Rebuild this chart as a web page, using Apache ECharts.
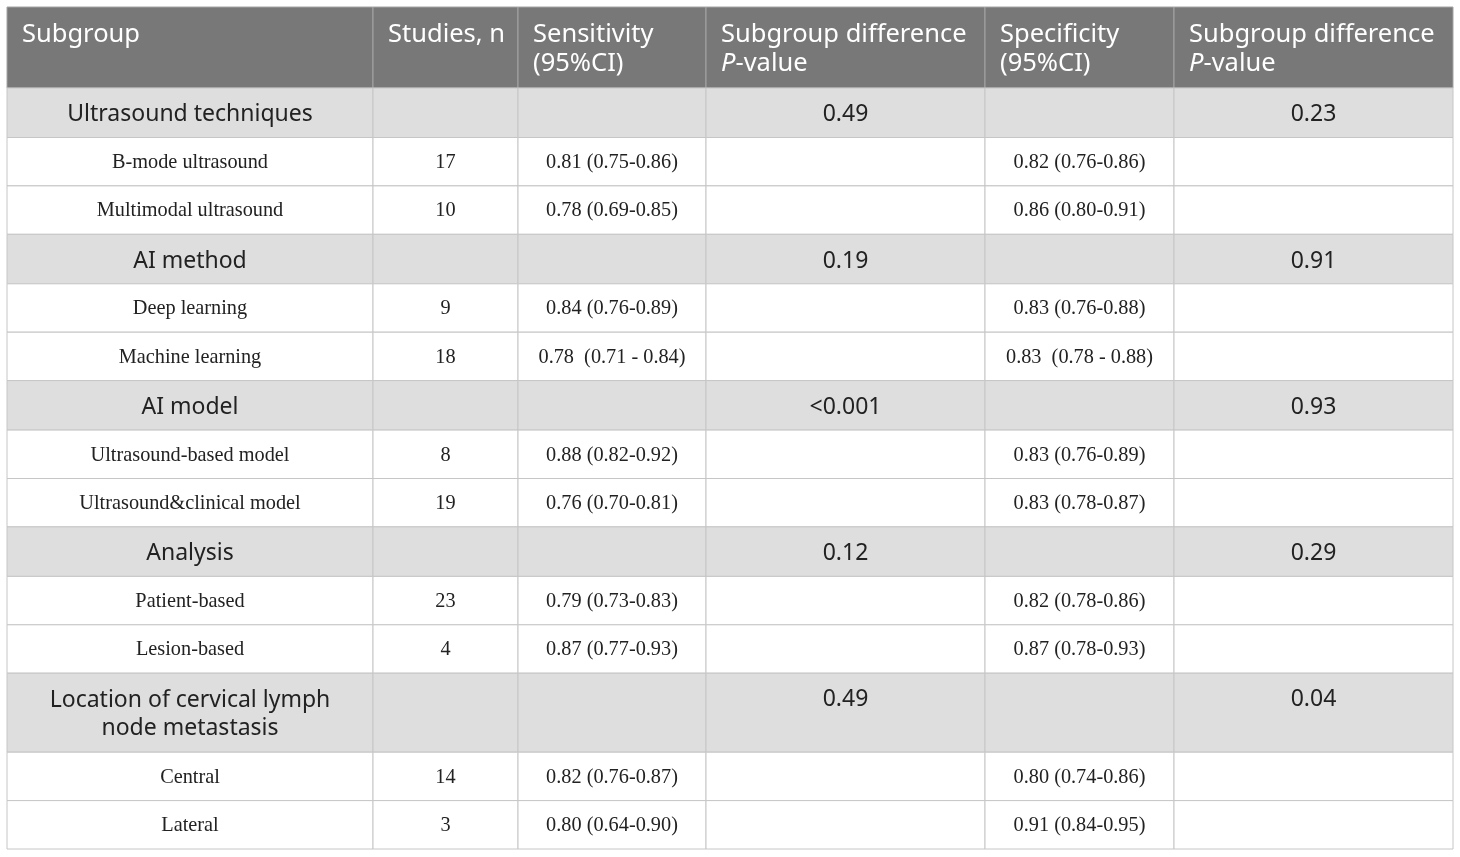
<!DOCTYPE html>
<html>
<head>
<meta charset="utf-8">
<script src="https://cdn.jsdelivr.net/npm/echarts@6/dist/echarts.min.js"></script>
<style>
html,body{margin:0;padding:0;background:#fff;}
#chart{width:1460px;height:857px;}
</style>
</head>
<body>
<div id="chart"></div>
<script>
// ---------- data ----------
const headers = ['Subgroup', 'Studies, n', 'Sensitivity\n(95%CI)', 'Subgroup difference\n{i|P}-value', 'Specificity\n(95%CI)', 'Subgroup difference\n{i|P}-value'];
const groups = ['Ultrasound techniques', 'AI method', 'AI model', 'Analysis', 'Location of cervical lymph\nnode metastasis'];
const groupSensP = ['0.49', '0.19', '<0.001', '0.12', '0.49'];
const groupSpecP = ['0.23', '0.91', '0.93', '0.29', '0.04'];
const subgroups = [
  ['B-mode ultrasound', 'Multimodal ultrasound'],
  ['Deep learning', 'Machine learning'],
  ['Ultrasound-based model', 'Ultrasound&clinical model'],
  ['Patient-based', 'Lesion-based'],
  ['Central', 'Lateral']
];
const studies = [[17, 10], [9, 18], [8, 19], [23, 4], [14, 3]];
const sensitivity = [
  ['0.81 (0.75-0.86)', '0.78 (0.69-0.85)'],
  ['0.84 (0.76-0.89)', '0.78  (0.71 - 0.84)'],
  ['0.88 (0.82-0.92)', '0.76 (0.70-0.81)'],
  ['0.79 (0.73-0.83)', '0.87 (0.77-0.93)'],
  ['0.82 (0.76-0.87)', '0.80 (0.64-0.90)']
];
const specificity = [
  ['0.82 (0.76-0.86)', '0.86 (0.80-0.91)'],
  ['0.83 (0.76-0.88)', '0.83  (0.78 - 0.88)'],
  ['0.83 (0.76-0.89)', '0.83 (0.78-0.87)'],
  ['0.82 (0.78-0.86)', '0.87 (0.78-0.93)'],
  ['0.80 (0.74-0.86)', '0.91 (0.84-0.95)']
];

// ---------- layout (not data) ----------
const LAYOUT = {
  colEdges: [0, 366, 511, 699, 978, 1167, 1446],
  headerH: 81, groupH: 49.5, groupH2: 79, subH: 48.4,
  width: 1446
};

// build rows: kind + cells
const rows = [];
rows.push({kind: 'header', cells: headers});
groups.forEach((g, gi) => {
  rows.push({kind: 'group', cells: [g, '', '', groupSensP[gi], '', groupSpecP[gi]]});
  subgroups[gi].forEach((s, si) => {
    rows.push({kind: 'sub', cells: [s, String(studies[gi][si]), sensitivity[gi][si], '', specificity[gi][si], '']});
  });
});
const rowEdges = [0];
rows.forEach(r => {
  let h = r.kind === 'header' ? LAYOUT.headerH : r.kind === 'sub' ? LAYOUT.subH :
    (r.cells[0].indexOf('\n') >= 0 ? LAYOUT.groupH2 : LAYOUT.groupH);
  rowEdges.push(rowEdges[rowEdges.length - 1] + h);
});
const totalH = rowEdges[rowEdges.length - 1];

const cellData = [];
rows.forEach((r, ri) => r.cells.forEach((c, ci) => cellData.push([ci, ri])));

const SANS = '"Noto Sans", "Open Sans", sans-serif';
const SERIF = '"Liberation Serif", "DejaVu Serif", serif';

function renderItem(params, api) {
  const ci = api.value(0), ri = api.value(1);
  const row = rows[ri];
  const p0 = api.coord([LAYOUT.colEdges[ci], rowEdges[ri]]);
  const p1 = api.coord([LAYOUT.colEdges[ci + 1], rowEdges[ri + 1]]);
  const x = p0[0], y = p0[1], w = p1[0] - p0[0], h = p1[1] - p0[1];
  const fill = row.kind === 'header' ? '#777877' : row.kind === 'group' ? '#dedede' : '#ffffff';
  const stroke = row.kind === 'header' ? '#a4a4a4' : '#c6c6c6';
  const children = [{
    type: 'rect',
    shape: {x: x, y: y, width: w, height: h},
    style: {fill: fill, stroke: stroke, lineWidth: 1}
  }];
  const txt = row.cells[ci];
  if (txt) {
    let style;
    if (row.kind === 'header') {
      style = {
        text: txt, x: x + 15, y: y + 13, align: 'left', verticalAlign: 'top',
        font: '25.5px ' + SANS, fill: '#ffffff', lineHeight: 29,
        rich: {i: {fontStyle: 'italic', fontSize: 25.5, fontFamily: SANS, fill: '#ffffff', lineHeight: 29}}
      };
    } else if (row.kind === 'group') {
      const cy = (ci === 0 ? y + h / 2 : y + LAYOUT.groupH / 2) + 2;
      style = {
        text: txt, x: x + w / 2, y: cy, align: 'center', verticalAlign: 'middle',
        font: '23px ' + SANS, fill: '#222222', lineHeight: 28
      };
    } else {
      style = {
        text: txt, x: x + w / 2, y: y + h / 2 + 1, align: 'center', verticalAlign: 'middle',
        font: '20.3px ' + SERIF, fill: '#222222'
      };
    }
    children.push({type: 'text', style: style});
  }
  return {type: 'group', children: children};
}

const chart = echarts.init(document.getElementById('chart'), null, {renderer: 'canvas'});
chart.setOption({
  animation: false,
  backgroundColor: '#ffffff',
  grid: {left: 7, top: 7, width: LAYOUT.width, height: totalH},
  xAxis: {type: 'value', min: 0, max: LAYOUT.width, show: false},
  yAxis: {type: 'value', min: 0, max: totalH, inverse: true, show: false},
  series: [{
    type: 'custom',
    renderItem: renderItem,
    data: cellData,
    clip: false
  }]
});
</script>
</body>
</html>
